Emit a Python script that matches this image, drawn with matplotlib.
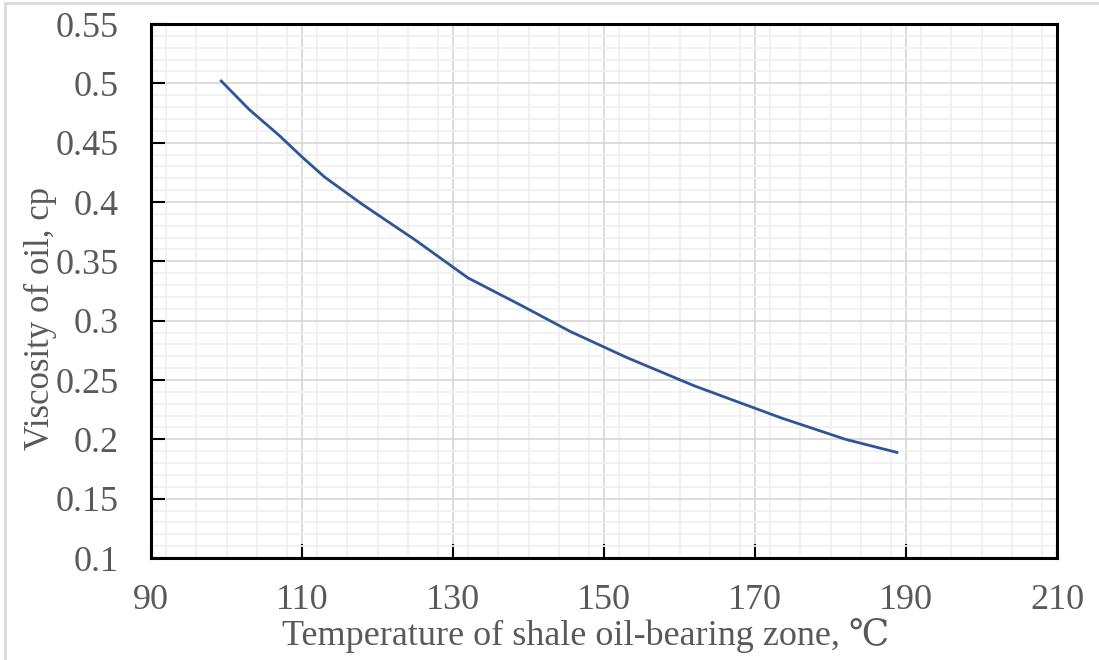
import matplotlib.pyplot as plt
from matplotlib.ticker import MultipleLocator
from matplotlib.patches import Rectangle

# Data
temperature = [99.3, 103, 107, 110, 113, 118, 125, 132, 139, 145.5, 153, 162, 173.5, 182, 188.8]
viscosity = [0.502, 0.478, 0.456, 0.438, 0.421, 0.398, 0.368, 0.336, 0.313, 0.291, 0.269, 0.245, 0.218, 0.200, 0.189]

x_ticks = [90, 110, 130, 150, 170, 190, 210]
y_ticks = [0.1, 0.15, 0.2, 0.25, 0.3, 0.35, 0.4, 0.45, 0.5, 0.55]

plt.rcParams['font.family'] = ['Liberation Serif', 'DejaVu Serif']
text_color = "#595959"

fig = plt.figure(figsize=(10.99, 6.6), dpi=100)
ax = fig.add_axes([0.1374, 0.1545, 0.8244, 0.8091])

# Light outer frame of the chart area
fig.patches.append(Rectangle((0.005, -0.01), 1.2, 1.005, transform=fig.transFigure,
                             fill=False, edgecolor="#d9d9d9", linewidth=2))

ax.plot(temperature, viscosity, color="#2f5597", linewidth=2.0, zorder=3)

ax.set_xlim(90, 210)
ax.set_ylim(0.1, 0.55)
ax.set_xticks(x_ticks)
ax.set_yticks(y_ticks)
ax.set_xticklabels([str(t) for t in x_ticks])
ax.set_yticklabels([f"{v:g}" for v in y_ticks])
ax.xaxis.set_minor_locator(MultipleLocator(4))
ax.yaxis.set_minor_locator(MultipleLocator(0.01))

ax.grid(which='major', color="#d9d9d9", linewidth=1.3)
ax.grid(which='minor', color="#f0f0f0", linewidth=1.3)
ax.set_axisbelow(True)

for side in ['left', 'bottom', 'right', 'top']:
    ax.spines[side].set_linewidth(2.2)
    ax.spines[side].set_color('black')

ax.tick_params(which='major', direction='in', length=10, width=1.5, colors='black',
               labelcolor=text_color, labelsize=26)
ax.tick_params(which='minor', length=0)
ax.tick_params(axis='y', pad=23)
ax.tick_params(axis='x', pad=19)

# Axis titles
fig.text(0.533, 0.037, "Temperature of shale oil-bearing zone, \u2103", fontsize=26,
         color=text_color, ha='center', va='center')
fig.text(0.037, 0.518, "Viscosity of oil, cp", fontsize=25, color=text_color,
         ha='center', va='center', rotation=90)

fig.savefig("out.png", dpi=100)
